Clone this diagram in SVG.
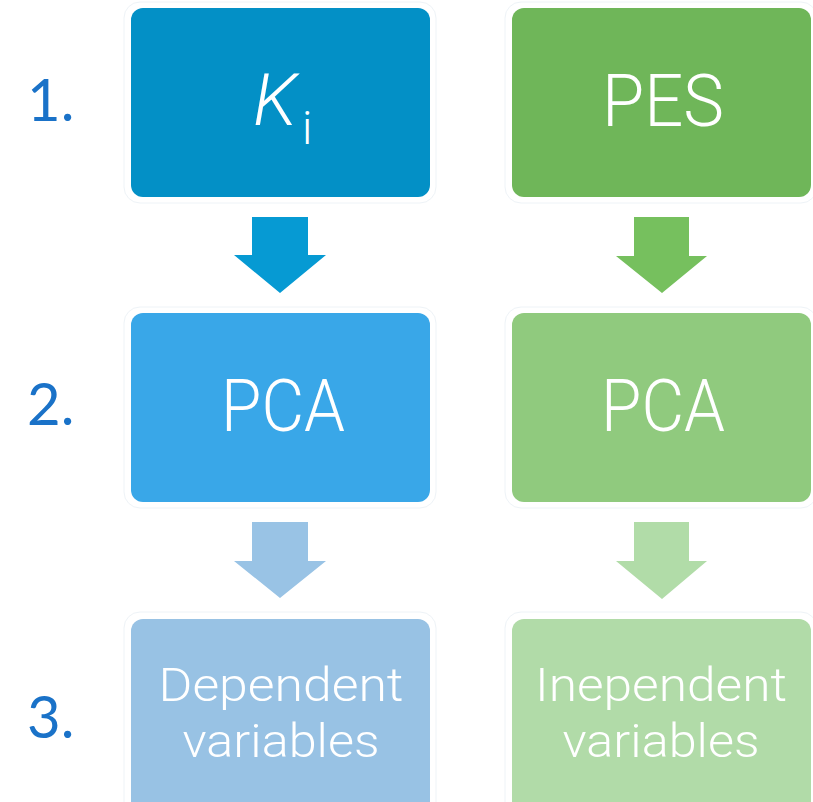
<svg xmlns="http://www.w3.org/2000/svg" width="813" height="802" viewBox="0 0 813 802">
<style>
.box{stroke:none}
.halo{fill:none;stroke:#eef3f7;stroke-width:1}
.t{font-family:Roboto,"Liberation Sans",sans-serif;font-weight:300;fill:#ffffff;text-anchor:middle}
.num{font-family:Lato,"Liberation Sans",sans-serif;font-size:58px;fill:#1a72c8}
</style>
<rect width="813" height="802" fill="#ffffff"/>
<g id="labels">
<text class="num" x="27" y="121">1.</text>
<text class="num" x="27" y="425">2.</text>
<text class="num" x="27" y="738">3.</text>
</g>
<g id="node-ki">
<rect class="halo" x="124" y="2" width="312" height="201" rx="16"/>
<rect class="box" x="131" y="8" width="299" height="189" rx="12" fill="#0390c6"/>
<text x="253" y="125" font-family="Roboto,'Liberation Sans',sans-serif" font-weight="300" font-style="italic" font-size="72" fill="#ffffff">K</text>
<text x="302" y="144" font-family="Roboto,'Liberation Sans',sans-serif" font-weight="300" font-size="46" fill="#ffffff">i</text>
</g>
<g id="node-pes">
<rect class="halo" x="505" y="2" width="312" height="201" rx="16"/>
<rect class="box" x="512" y="8" width="299" height="189" rx="12" fill="#6fb659"/>
<text class="t" x="663" y="126" font-size="72" textLength="122" lengthAdjust="spacingAndGlyphs">PES</text>
</g>
<g id="node-pca-left">
<rect class="halo" x="124" y="307" width="312" height="201" rx="16"/>
<rect class="box" x="131" y="313" width="299" height="189" rx="12" fill="#39a7e8"/>
<text class="t" x="283" y="431" font-size="72" textLength="124" lengthAdjust="spacingAndGlyphs">PCA</text>
</g>
<g id="node-pca-right">
<rect class="halo" x="505" y="307" width="312" height="201" rx="16"/>
<rect class="box" x="512" y="313" width="299" height="189" rx="12" fill="#90ca7e"/>
<text class="t" x="663" y="431" font-size="72" textLength="124" lengthAdjust="spacingAndGlyphs">PCA</text>
</g>
<g id="node-dependent">
<rect class="halo" x="124" y="612" width="312" height="210" rx="16"/>
<rect class="box" x="131" y="619" width="299" height="200" rx="12" fill="#98c2e4"/>
<text class="t" x="281" y="701" font-size="47" textLength="245" lengthAdjust="spacingAndGlyphs">Dependent</text>
<text class="t" x="281" y="757" font-size="47" textLength="197" lengthAdjust="spacingAndGlyphs">variables</text>
</g>
<g id="node-independent">
<rect class="halo" x="505" y="612" width="312" height="210" rx="16"/>
<rect class="box" x="512" y="619" width="299" height="200" rx="12" fill="#b1dba8"/>
<text class="t" x="661" y="701" font-size="47" textLength="252" lengthAdjust="spacingAndGlyphs">Inependent</text>
<text class="t" x="661" y="757" font-size="47" textLength="197" lengthAdjust="spacingAndGlyphs">variables</text>
</g>
<g id="connectors">
<polygon points="252,217 308,217 308,255 326,255 280,293 234,255 252,255" fill="#069ad3"/>
<polygon points="634,217 689,217 689,256 707,256 662,293 616,256 634,256" fill="#76c05e"/>
<polygon points="252,522 308,522 308,561 326,561 280,598 234,561 252,561" fill="#99c3e5"/>
<polygon points="634,522 689,522 689,561 707,561 662,599 616,561 634,561" fill="#b1dca8"/>
</g>
</svg>
